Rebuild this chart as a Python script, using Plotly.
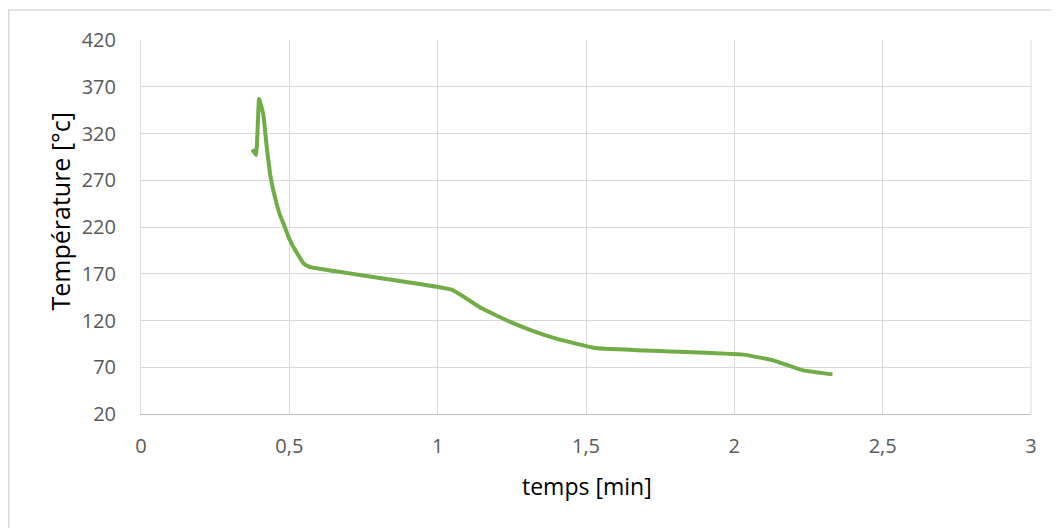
import plotly.graph_objects as go

temps_min = [0.375, 0.388, 0.398, 0.412, 0.424, 0.435, 0.446, 0.457, 0.468, 0.48, 0.494, 0.508,
             0.53, 0.548, 0.57, 1.047, 1.148, 1.244, 1.32, 1.40, 1.53, 2.03, 2.131, 2.232, 2.331]
temperature = [303, 297, 357, 341, 305, 277, 259, 245, 233, 224, 212, 202,
               190, 181, 177, 153, 133, 118.5, 109, 100.6, 90.6, 83.5, 77.4, 66.7, 62.4]

x_ticks = [0, 0.5, 1, 1.5, 2, 2.5, 3]
x_tick_labels = ["0", "0,5", "1", "1,5", "2", "2,5", "3"]
y_ticks = [20, 70, 120, 170, 220, 270, 320, 370, 420]

FONT = "Open Sans, Lato, sans-serif"

fig = go.Figure()
fig.add_trace(go.Scatter(
    x=temps_min, y=temperature, mode="lines",
    line=dict(color="#70ad47", width=4, shape="spline", smoothing=0.3),
    showlegend=False, hoverinfo="skip",
))

# page has an 8px body margin, so the figure is 8px smaller and shifted
W, H = 1051, 520
L, R, T, B = 133, 28, 32, 114
pw, ph = W - L - R, H - T - B

fig.update_layout(
    width=W, height=H,
    margin=dict(l=L, r=R, t=T, b=B),
    paper_bgcolor="white", plot_bgcolor="white",
    font=dict(family=FONT, color="#595959", size=20),
    xaxis=dict(
        range=[0, 3], tickvals=x_ticks, ticktext=x_tick_labels,
        showgrid=True, gridcolor="#d9d9d9", gridwidth=1,
        showline=True, linecolor="#bfbfbf", linewidth=1,
        zeroline=False, ticks="", ticklabelstandoff=14,
        tickfont=dict(family=FONT, size=20, color="#595959"),
    ),
    yaxis=dict(
        range=[20, 420], tickvals=y_ticks,
        showgrid=True, gridcolor="#d9d9d9", gridwidth=1,
        showline=True, linecolor="#d9d9d9", linewidth=1,
        zeroline=False, ticks="", ticklabelstandoff=20,
        tickfont=dict(family=FONT, size=20, color="#595959"),
    ),
)

# axis titles placed as annotations (pixel-exact)
fig.add_annotation(text="temps [min]", xref="paper", yref="paper",
                   x=(587 - 8 - L) / pw, y=-(486 - 8 - (T + ph)) / ph,
                   showarrow=False, xanchor="center", yanchor="middle",
                   font=dict(family=FONT, size=23, color="#000000"))
fig.add_annotation(text="Température [°c]", xref="paper", yref="paper",
                   x=(60 - 8 - L) / pw, y=1 - (211.5 - 8 - T) / ph,
                   showarrow=False, xanchor="center", yanchor="middle", textangle=-90,
                   font=dict(family=FONT, size=25, color="#000000"))

# outer chart border (only top and left visible in the frame)
fig.add_shape(type="rect", xref="paper", yref="paper",
              x0=(0.75 - L) / pw, x1=1.2, y0=-0.6, y1=1 + (T - 2) / ph,
              line=dict(color="#d9d9d9", width=1.5), layer="below")
# plot area right border
fig.add_shape(type="line", xref="paper", yref="paper",
              x0=1, x1=1, y0=0, y1=1, line=dict(color="#d9d9d9", width=1), layer="below")

fig.write_html("out.html")
